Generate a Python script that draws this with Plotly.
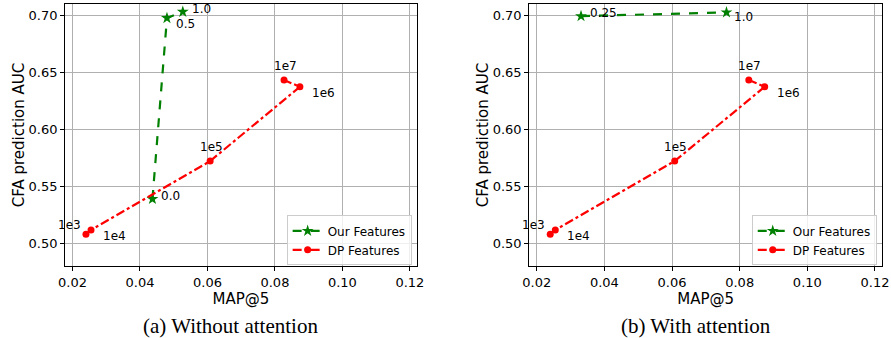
import plotly.graph_objects as go

# Data
our_a_x = [0.0437, 0.0480, 0.0527]
our_a_y = [0.5392, 0.6980, 0.7035]
our_a_labels = ["0.0", "0.5", "1.0"]

our_b_x = [0.0331, 0.0761]
our_b_y = [0.6997, 0.7030]
our_b_labels = ["0.25", "1.0"]

dp_x = [0.0240, 0.0255, 0.0608, 0.0874, 0.0827]
dp_y = [0.5083, 0.5120, 0.5725, 0.6377, 0.6436]
dp_labels = ["1e3", "1e4", "1e5", "1e6", "1e7"]

x_ticks = [0.02, 0.04, 0.06, 0.08, 0.10, 0.12]
x_ticktext = ["0.02", "0.04", "0.06", "0.08", "0.10", "0.12"]
y_ticks = [0.50, 0.55, 0.60, 0.65, 0.70]
y_ticktext = ["0.50", "0.55", "0.60", "0.65", "0.70"]

captions = ["(a) Without attention", "(b) With attention"]

FONT = "DejaVu Sans"
GREEN = "#008000"
RED = "#ff0000"

fig = go.Figure()

def add_panel(our_x, our_y, xa, ya, legend):
    fig.add_trace(go.Scatter(
        x=our_x, y=our_y, mode="lines+markers", name="Our Features",
        line=dict(color=GREEN, width=2.2, dash="dash"),
        marker=dict(symbol="star", size=9, color=GREEN),
        xaxis=xa, yaxis=ya, legend=legend))
    fig.add_trace(go.Scatter(
        x=dp_x, y=dp_y, mode="lines+markers", name="DP Features",
        line=dict(color=RED, width=2.2, dash="dashdot"),
        marker=dict(symbol="circle", size=7, color=RED),
        xaxis=xa, yaxis=ya, legend=legend))

add_panel(our_a_x, our_a_y, "x", "y", "legend")
add_panel(our_b_x, our_b_y, "x2", "y2", "legend2")

# label offsets (style): (xanchor, xshift, yshift)
dp_off = [("right", -3, 9), ("left", 10, -6), ("center", 1, 14), ("left", 10, -6), ("center", 1, 14)]
our_a_off = [("left", 7, 3), ("left", 7, -6), ("left", 7, 3)]
our_b_off = [("left", 7, 3), ("left", 6, -5)]

annotations = []
def add_labels(xs, ys, labels, offs, xr, yr):
    for x, y, t, (anc, dx, dy) in zip(xs, ys, labels, offs):
        annotations.append(dict(x=x, y=y, xref=xr, yref=yr, text=t, showarrow=False,
                                xanchor=anc, yanchor="middle", xshift=dx, yshift=dy,
                                font=dict(family=FONT, size=12, color="black")))

add_labels(our_a_x, our_a_y, our_a_labels, our_a_off, "x", "y")
add_labels(dp_x, dp_y, dp_labels, dp_off, "x", "y")
add_labels(our_b_x, our_b_y, our_b_labels, our_b_off, "x2", "y2")
add_labels(dp_x, dp_y, dp_labels, dp_off, "x2", "y2")

cap_font = dict(family="Liberation Serif", size=21, color="black")
annotations.append(dict(x=0.259, y=0.036, xref="paper", yref="paper", text=captions[0],
                        showarrow=False, xanchor="center", yanchor="middle", font=cap_font))
annotations.append(dict(x=0.781, y=0.036, xref="paper", yref="paper", text=captions[1],
                        showarrow=False, xanchor="center", yanchor="middle", font=cap_font))

axis_common = dict(
    range=[0.0178, 0.1221], tickvals=x_ticks, ticktext=x_ticktext,
    showgrid=True, gridcolor="#b0b0b0", gridwidth=1,
    showline=True, linecolor="black", linewidth=1, mirror=True,
    ticks="outside", ticklen=4, tickcolor="black",
    tickfont=dict(family=FONT, size=13, color="black"),
    zeroline=False, automargin=False,
    title=dict(text="MAP@5", font=dict(family=FONT, size=15, color="black"), standoff=2),
)
yaxis_common = dict(
    range=[0.4804, 0.7103], tickvals=y_ticks, ticktext=y_ticktext,
    showgrid=True, gridcolor="#b0b0b0", gridwidth=1,
    showline=True, linecolor="black", linewidth=1, mirror=True,
    ticks="outside", ticklen=4, tickcolor="black",
    tickfont=dict(family=FONT, size=13, color="black"),
    zeroline=False, automargin=False,
    title=dict(text="CFA prediction AUC", font=dict(family=FONT, size=15, color="black"), standoff=0),
)

legend_common = dict(
    bgcolor="rgba(255,255,255,0.8)", bordercolor="#cccccc", borderwidth=1,
    font=dict(family=FONT, size=12, color="black"),
    xanchor="right", yanchor="bottom", tracegroupgap=0, itemwidth=30,
)

fig.update_layout(
    width=891, height=338,
    margin=dict(l=0, r=0, t=0, b=0, autoexpand=False),
    paper_bgcolor="white", plot_bgcolor="white",
    xaxis=dict(domain=[0.073, 0.468], anchor="y", **axis_common),
    yaxis=dict(domain=[0.213, 0.988], anchor="x", **yaxis_common),
    xaxis2=dict(domain=[0.594, 0.990], anchor="y2", **axis_common),
    yaxis2=dict(domain=[0.213, 0.988], anchor="x2", **yaxis_common),
    legend=dict(x=0.462, y=0.215, **legend_common),
    legend2=dict(x=0.984, y=0.215, **legend_common),
    annotations=annotations,
    showlegend=True,
)

fig.write_html("out.html", config={"displayModeBar": False},
               post_script="document.body.style.margin='0';document.body.style.overflow='hidden';")
